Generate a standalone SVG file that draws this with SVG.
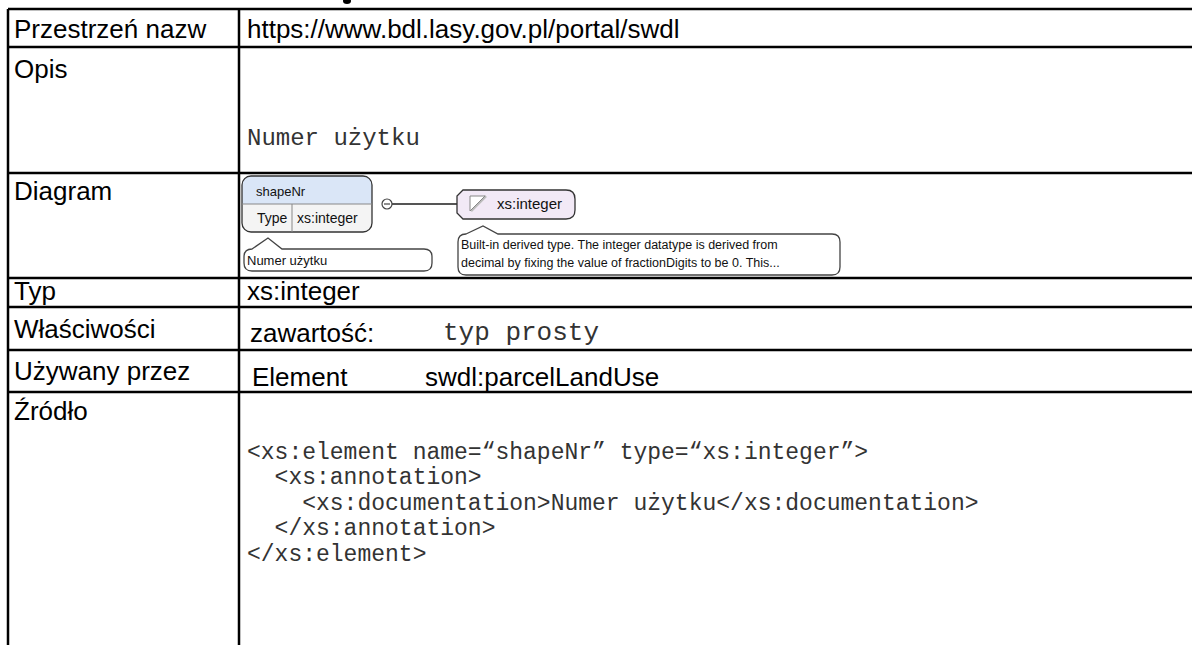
<svg xmlns="http://www.w3.org/2000/svg" width="1192" height="645" viewBox="0 0 1192 645">
<style>
.lbl{font-family:"Liberation Sans",Arial,sans-serif;font-size:26px;fill:#000}
.mono{font-family:"Liberation Mono","Courier New",monospace;fill:#333}
.grid{stroke:#000;stroke-width:2.5;fill:none}
.dg{font-family:"Liberation Sans",Arial,sans-serif;fill:#111}
.bub{fill:#fff;stroke:#444;stroke-width:1.3}
</style>
<rect width="1192" height="645" fill="#fff"/>
<ellipse cx="347" cy="1" rx="4" ry="3" fill="#000"/>
<g id="table">
<path class="grid" d="M8 9 H1192 M8 47 H1192 M8 173 H1192 M8 278 H1192 M8 307 H1192 M8 350 H1192 M8 392 H1192 M8 9 V645 M239 9 V645"/>
</g>
<g id="labels">
<text class="lbl" x="14" y="38">Przestrzeń nazw</text>
<text class="lbl" x="247" y="38">https://www.bdl.lasy.gov.pl/portal/swdl</text>
<text class="lbl" x="14" y="78">Opis</text>
<text class="mono" x="247" y="145" font-size="24">Numer użytku</text>
<text class="lbl" x="14" y="200">Diagram</text>
<text class="lbl" x="14" y="300">Typ</text>
<text class="lbl" x="247" y="300">xs:integer</text>
<text class="lbl" x="14" y="338">Właściwości</text>
<text class="lbl" x="250" y="342">zawartość:</text>
<text class="mono" x="443" y="340" font-size="26">typ prosty</text>
<text class="lbl" x="14" y="380">Używany przez</text>
<text class="lbl" x="252" y="386">Element</text>
<text class="lbl" x="425" y="386">swdl:parcelLandUse</text>
<text class="lbl" x="14" y="420">Źródło</text>
<g class="mono" font-size="23">
<text x="247" y="459" xml:space="preserve">&lt;xs:element name=“shapeNr” type=“xs:integer”&gt;</text>
<text x="247" y="484" xml:space="preserve">  &lt;xs:annotation&gt;</text>
<text x="247" y="510" xml:space="preserve">    &lt;xs:documentation&gt;Numer użytku&lt;/xs:documentation&gt;</text>
<text x="247" y="535" xml:space="preserve">  &lt;/xs:annotation&gt;</text>
<text x="247" y="561" xml:space="preserve">&lt;/xs:element&gt;</text>
</g>
</g>
<g id="connectors">
<line x1="392" y1="204" x2="457" y2="204" stroke="#555" stroke-width="2"/>
</g>
<g id="node-shapeNr">
<rect x="242" y="176" width="130" height="56" rx="9" fill="#f4f4f4"/>
<path d="M242 204 V185 Q242 176 251 176 H363 Q372 176 372 185 V204 Z" fill="#dae6f7"/>
<rect x="242" y="176" width="130" height="56" rx="9" fill="none" stroke="#333" stroke-width="1.3"/>
<line x1="242" y1="204" x2="372" y2="204" stroke="#888" stroke-width="1"/>
<line x1="292" y1="204" x2="292" y2="232" stroke="#888" stroke-width="1"/>
<text class="dg" x="256" y="196" font-size="13">shapeNr</text>
<text class="dg" x="257" y="223" font-size="14">Type</text>
<text class="dg" x="297" y="223" font-size="14">xs:integer</text>
<circle cx="387" cy="204" r="5" fill="#fff" stroke="#444" stroke-width="1.2"/>
<line x1="384" y1="204" x2="390" y2="204" stroke="#444" stroke-width="1.2"/>
</g>
<g id="node-doc-shapeNr">
<path class="bub" d="M252 249 L268 238 L282 249 H424 Q432 249 432 257 V263 Q432 271 424 271 H252 Q244 271 244 263 V257 Q244 249 252 249 Z"/>
<text class="dg" x="247" y="265" font-size="13">Numer użytku</text>
</g>
<g id="node-xs-integer">
<path d="M463 190 H566 Q575 190 575 199 V210 Q575 219 566 219 H463 L457 213 V196 Z" fill="#f2e9f6" stroke="#333" stroke-width="1.3"/>
<path d="M471 211 L486 196" stroke="#bbb" stroke-width="2.5"/>
<path d="M470 196 H485 L470 211 Z" fill="#fff" stroke="#888" stroke-width="1"/>
<text class="dg" x="497" y="209" font-size="15">xs:integer</text>
</g>
<g id="node-doc-xs-integer">
<path class="bub" d="M466 234 L483 226 L498 234 H832 Q840 234 840 242 V267 Q840 275 832 275 H466 Q458 275 458 267 V242 Q458 234 466 234 Z"/>
<text class="dg" x="461" y="249" font-size="12.5">Built-in derived type. The integer datatype is derived from</text>
<text class="dg" x="461" y="267" font-size="12.5">decimal by fixing the value of fractionDigits to be 0. This...</text>
</g>
</svg>
